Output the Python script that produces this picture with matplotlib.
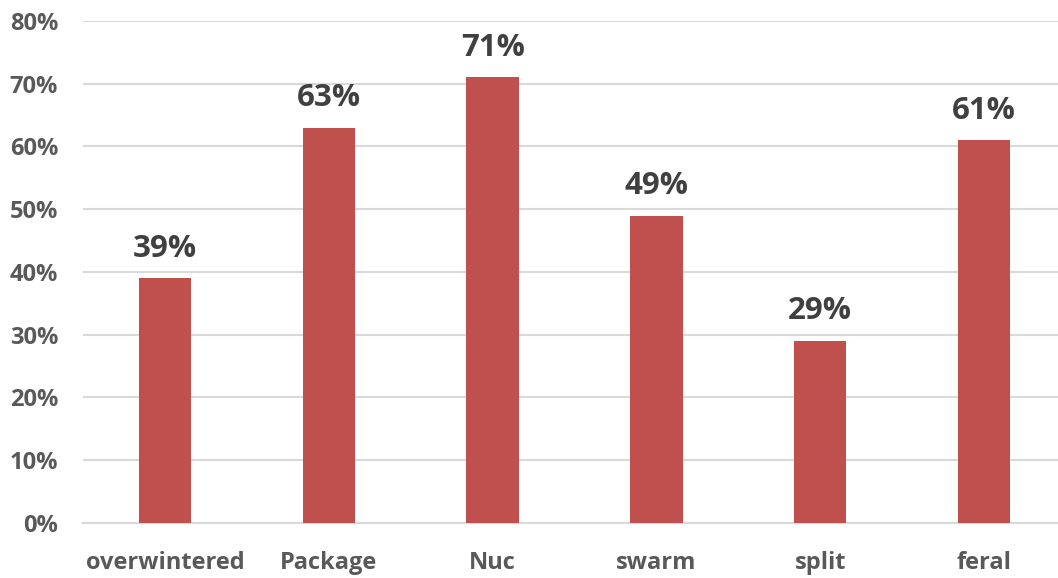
import matplotlib
matplotlib.use("Agg")
import matplotlib.pyplot as plt
from matplotlib.ticker import FuncFormatter

categories = ["overwintered", "Package", "Nuc", "swarm", "split", "feral"]
values = [39, 63, 71, 49, 29, 61]
yticks = [0, 10, 20, 30, 40, 50, 60, 70, 80]

plt.rcParams['font.family'] = ['Open Sans', 'DejaVu Sans']

fig = plt.figure(figsize=(10.58, 5.78), dpi=100)
ax = fig.add_axes([0.0785, 0.0952, 0.929, 0.8685])

x = list(range(len(categories)))
bars = ax.bar(x, values, width=0.32, color="#C0504D", zorder=3)

ax.set_ylim(0, 80)
ax.set_xlim(-0.5, len(categories) - 0.5)
ax.set_yticks(yticks)
ax.yaxis.set_major_formatter(FuncFormatter(lambda v, p: f"{int(v)}%"))
ax.set_xticks(x)
ax.set_xticklabels(categories)

ax.grid(axis="y", color="#D9D9D9", linewidth=1.5, zorder=0)
for s in ["top", "right", "left"]:
    ax.spines[s].set_visible(False)
ax.spines["bottom"].set_color("#D9D9D9")
ax.spines["bottom"].set_linewidth(1.5)
ax.tick_params(axis="both", length=0, labelsize=17, labelcolor="#595959")
ax.tick_params(axis="x", pad=20)
ax.tick_params(axis="y", pad=18)
for lbl in ax.get_xticklabels() + ax.get_yticklabels():
    lbl.set_fontweight("bold")

for xi, v in zip(x, values):
    ax.annotate(f"{v}%", (xi, v), xytext=(0, 10.5), textcoords="offset points",
                ha="center", va="bottom", fontsize=22.5, fontweight="bold",
                color="#404040")

fig.savefig("out.png", dpi=100)
